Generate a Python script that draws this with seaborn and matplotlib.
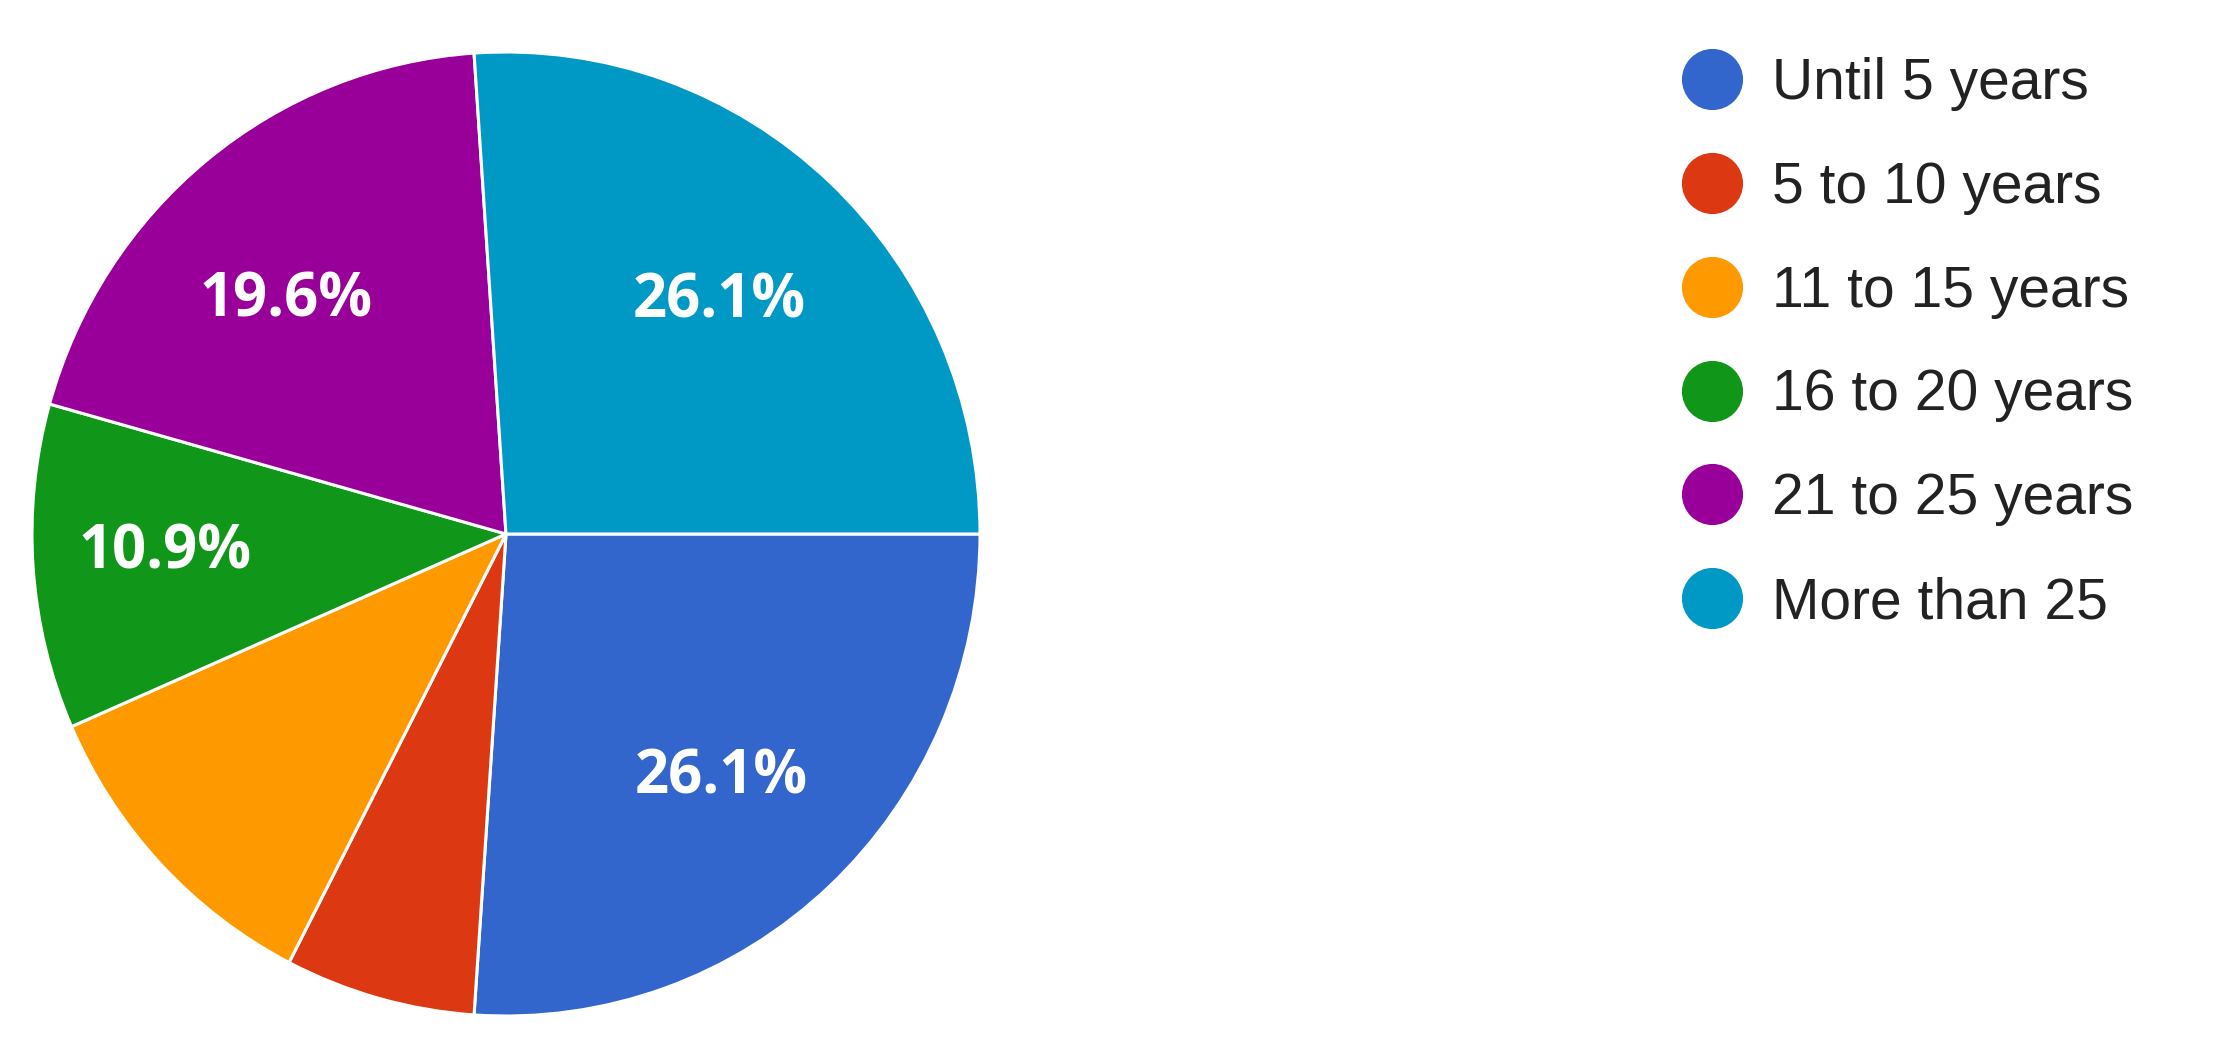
import matplotlib.pyplot as plt
import seaborn as sns
from matplotlib.lines import Line2D
import numpy as np

# Set plotting style
sns.set_theme(style="white")

# Data
categories = ['Until 5 years', '5 to 10 years', '11 to 15 years',
              '16 to 20 years', '21 to 25 years', 'More than 25']
shares = [26.1, 6.5, 10.9, 10.9, 19.6, 26.1]
colors = ['#3366CC', '#DC3912', '#FF9900', '#109618', '#990099', '#0099C6']
# slices that carry no percentage label in the original
unlabelled = ['5 to 10 years', '11 to 15 years']
# label placement: (fraction of radius, angle nudge in degrees)
label_place = {'Until 5 years': (0.68, -1.2), '16 to 20 years': (0.72, -0.8),
               '21 to 25 years': (0.67, 4.8), 'More than 25': (0.66, 0)}

fig = plt.figure(figsize=(22.3, 10.47), dpi=100)
W, H = 2230, 1047
cx, cy, rx, ry = 506, 534, 474, 482
ax = fig.add_axes([(cx - rx) / W, (H - cy - ry) / H, 2 * rx / W, 2 * ry / H])

wedges, texts, autotexts = ax.pie(
    shares, colors=colors, startangle=0, counterclock=False,
    autopct='%.1f%%', pctdistance=0.67,
    wedgeprops=dict(edgecolor='white', linewidth=2.2),
    textprops=dict(color='white', fontsize=43, fontweight='bold',
                   family='Open Sans'))

for name, w, t in zip(categories, wedges, autotexts):
    if name in unlabelled:
        t.set_visible(False)
        continue
    d, nudge = label_place[name]
    mid = np.deg2rad((w.theta1 + w.theta2) / 2 + nudge)
    t.set_position((d * np.cos(mid), d * np.sin(mid)))

ax.set_xlim(-1, 1)
ax.set_ylim(-1, 1)
ax.set_aspect('auto')
ax.axis('off')

# Legend with round markers
handles = [Line2D([0], [0], marker='o', linestyle='', markersize=43,
                  markerfacecolor=c, markeredgecolor=c) for c in colors]
leg = fig.legend(handles, categories, loc='upper left',
                 bbox_to_anchor=(1678 / W, 1 - 57 / H),
                 frameon=False, handletextpad=0.45, labelspacing=0.875,
                 borderpad=0, borderaxespad=0, handlelength=1.2,
                 prop=dict(family='Liberation Sans', size=41))
for t in leg.get_texts():
    t.set_color('#222222')

fig.savefig('out.png', dpi=100)
